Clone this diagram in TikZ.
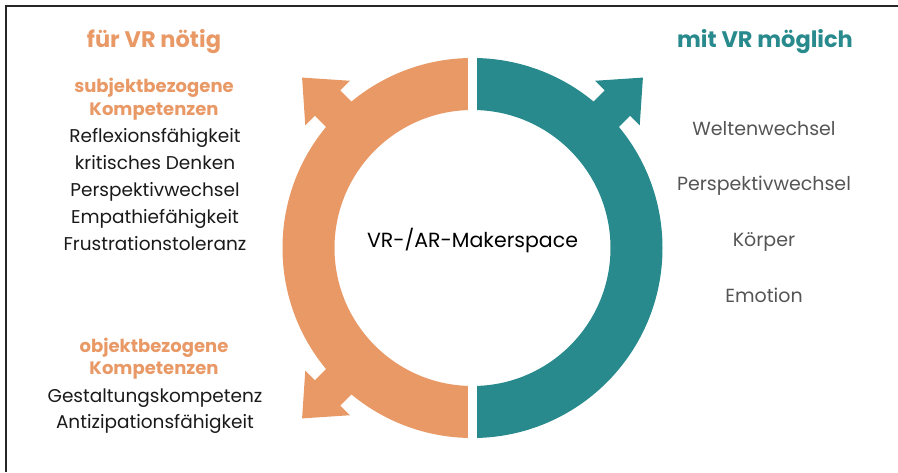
\documentclass[tikz,border=0pt]{standalone}
\usepackage{fontspec}
\usetikzlibrary{calc}
\setmainfont{Poppins}
\definecolor{orng}{HTML}{E89966}
\definecolor{teal2}{HTML}{288A8C}
\definecolor{txtgray}{HTML}{555555}
\definecolor{txtblack}{HTML}{1A1A1A}
\begin{document}
\begin{tikzpicture}[x=1pt,y=1pt,
  title/.style={font=\fontsize{22.5}{26}\selectfont\bfseries, anchor=base},
  subhead/.style={font=\fontsize{18}{21}\selectfont\bfseries, text=orng, anchor=base},
  item/.style={font=\fontsize{18.5}{22}\selectfont, text=txtblack, anchor=base},
  ritem/.style={font=\fontsize{19}{22}\selectfont, text=txtgray, anchor=base}]
\useasboundingbox (0,0) rectangle (898,472);
\coordinate (C) at (472.5,224);
% frame
\draw[line width=1.2pt, black!85] (898,466) -- (6,466) -- (6,0);
% arcs
\fill[orng] ($(C)+(90:190)$) arc[start angle=90,end angle=270,radius=190] -- ($(C)+(270:138)$) arc[start angle=270,end angle=90,radius=138] -- cycle;
\fill[teal2] ($(C)+(-90:190)$) arc[start angle=-90,end angle=90,radius=190] -- ($(C)+(90:138)$) arc[start angle=90,end angle=-90,radius=138] -- cycle;
% arrows
\foreach \ang/\col in {135/orng,225/orng,45/teal2}{
  \fill[\col, shift={(C)}, rotate=\ang] (160,-18) -- (205,-18) -- (205,-31.5) -- (241,0) -- (205,31.5) -- (205,18) -- (160,18) -- cycle;
}
% gaps
\fill[white] (468,20) rectangle (477,450);
% center text
\node[item, text=black, font=\fontsize{20.5}{24}\selectfont] (center) at (472.5,224) {VR-/AR-Makerspace};
% left column
\node[title, text=orng] (lt) at (154,424) {für VR nötig};
\node[subhead] (s1) at (154,379) {subjektbezogene};
\node[subhead] (s2) at (154,356) {Kompetenzen};
\node[item] (l1) at (155,329) {Reflexionsfähigkeit};
\node[item] (l2) at (155,302) {kritisches Denken};
\node[item] (l3) at (155,275) {Perspektivwechsel};
\node[item] (l4) at (155,248) {Empathiefähigkeit};
\node[item] (l5) at (155,221) {Frustrationstoleranz};
\node[subhead] (o1) at (154,120) {objektbezogene};
\node[subhead] (o2) at (154,97) {Kompetenzen};
\node[item] (g1) at (155,70) {Gestaltungskompetenz};
\node[item] (g2) at (155,44) {Antizipationsfähigkeit};
% right column
\node[title, text=teal2] (rt) at (765,424) {mit VR möglich};
\node[ritem] (r1) at (764,336) {Weltenwechsel};
\node[ritem] (r2) at (764,281) {Perspektivwechsel};
\node[ritem] (r3) at (764,225) {Körper};
\node[ritem] (r4) at (764,169) {Emotion};
\end{tikzpicture}
\end{document}
